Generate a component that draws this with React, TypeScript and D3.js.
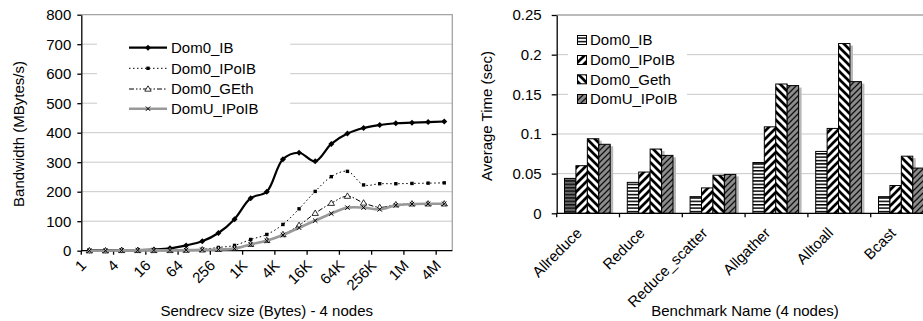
import { useEffect, useRef } from "react";
import * as d3 from "d3";

// left chart: Sendrecv bandwidth
const sizeLabels = ["1", "2", "4", "8", "16", "32", "64", "128", "256", "512", "1K", "2K", "4K", "8K", "16K", "32K", "64K", "128K", "256K", "512K", "1M", "2M", "4M"];
const dom0IB = [1, 1, 2, 2, 4, 8, 18, 32, 60, 107, 178, 200, 310, 332, 303, 362, 397, 416, 426, 432, 434, 436, 438];
const dom0IPoIB = [0, 0, 1, 1, 1, 2, 3, 5, 11, 18, 38, 55, 89, 142, 201, 251, 269, 223, 227, 227, 228, 229, 230];
const dom0GEth = [0, 0, 1, 1, 1, 1, 2, 3, 5, 8, 22, 35, 55, 86, 127, 161, 185, 162, 147, 156, 159, 159, 159];
const domUIPoIB = [0, 0, 1, 1, 1, 1, 2, 3, 4, 7, 21, 34, 53, 78, 102, 126, 146, 146, 140, 154, 158, 159, 159];
const lineNames = ["Dom0_IB", "Dom0_IPoIB", "Dom0_GEth", "DomU_IPoIB"];
const bwTicks = [0, 100, 200, 300, 400, 500, 600, 700, 800];

// right chart: collective average time
const benchmarks = ["Allreduce", "Reduce", "Reduce_scatter", "Allgather", "Alltoall", "Bcast"];
const barNames = ["Dom0_IB", "Dom0_IPoIB", "Dom0_Geth", "DomU_IPoIB"];
const ibTime = [0.044, 0.039, 0.021, 0.064, 0.078, 0.021];
const ipoibTime = [0.06, 0.052, 0.032, 0.109, 0.107, 0.035];
const gethTime = [0.094, 0.081, 0.048, 0.163, 0.214, 0.072];
const domuTime = [0.087, 0.073, 0.049, 0.161, 0.166, 0.057];
const timeTicks = [0, 0.05, 0.1, 0.15, 0.2, 0.25];

const FONT = "'Liberation Sans', Arial, Helvetica, sans-serif";

function Charts() {
  const ref = useRef<SVGSVGElement | null>(null);

  useEffect(() => {
    const svg = d3.select(ref.current);
    svg.selectAll("*").remove();

    const defs = svg.append("defs");
    const pat = (id: string, size: number, bg: string) => {
      const p = defs.append("pattern").attr("id", id)
        .attr("patternUnits", "userSpaceOnUse")
        .attr("width", size).attr("height", size);
      p.append("rect").attr("width", size).attr("height", size).attr("fill", bg);
      return p;
    };
    // horizontal stripes
    const h1 = pat("hstripe", 3.4, "#fff");
    h1.append("rect").attr("width", 3.4).attr("height", 1.5).attr("fill", "#000");
    const h2 = pat("hstripeDark", 3.4, "#6a6a6a");
    h2.append("rect").attr("width", 3.4).attr("height", 1.5).attr("fill", "#111");
    // wide "/" stripes
    pat("diagUp", 8, "#fff").append("path")
      .attr("d", "M-2,2L2,-2M0,8L8,0M6,10L10,6")
      .attr("stroke", "#000").attr("stroke-width", 2.7);
    // wide "\" stripes
    pat("diagDown", 8, "#fff").append("path")
      .attr("d", "M-2,6L2,10M0,0L8,8M6,-2L10,2")
      .attr("stroke", "#000").attr("stroke-width", 2.7);
    // gray with thin "/" lines
    pat("grayDiag", 6, "#8c8c8c").append("path")
      .attr("d", "M-2,2L2,-2M0,6L6,0M4,8L8,4")
      .attr("stroke", "#111").attr("stroke-width", 1.3);

    // slanted category label, anchored at its right end
    const slanted = (parent: any, px: number, py: number, label: string) => {
      parent.append("g")
        .attr("transform", `translate(${px.toFixed(1)},${py.toFixed(1)}) rotate(-45)`)
        .append("text")
        .attr("x", 0).attr("y", 0)
        .attr("text-anchor", "end")
        .attr("dy", "0.35em")
        .attr("font-size", 15).attr("font-family", FONT)
        .text(label);
    };

    // ---------------- left chart ----------------
    const lx0 = 81.3, lx1 = 452.3, ly0 = 250.7, ly1 = 14.7;
    const x = d3.scaleBand().domain(sizeLabels).range([lx0, lx1]);
    const cx = (i: number) => (x(sizeLabels[i]) as number) + x.bandwidth() / 2;
    const y = d3.scaleLinear([0, 800], [ly0, ly1]);

    const left = svg.append("g");
    left.selectAll("line.grid")
      .data(bwTicks.filter(t => t > 0 && t < 800))
      .join("line")
      .attr("x1", lx0).attr("x2", lx1)
      .attr("y1", d => y(d)).attr("y2", d => y(d))
      .attr("stroke", "#c8c8c8").attr("stroke-width", 1);
    // plot border
    left.append("path")
      .attr("d", `M${lx0},${y(800)}H${lx1}V${ly0}`)
      .attr("fill", "none").attr("stroke", "#a4a4a4").attr("stroke-width", 1.3);

    const yAxis = left.append("g")
      .attr("transform", `translate(${lx0},0)`)
      .call(d3.axisLeft(y).tickValues(bwTicks).tickSize(4).tickSizeOuter(0).tickPadding(6));
    yAxis.selectAll("text").attr("font-size", 15).attr("font-family", FONT).attr("fill", "#000");
    yAxis.selectAll("line, path").attr("stroke", "#000").attr("stroke-width", 1.3);

    // x axis with ticks every second category boundary
    left.append("line")
      .attr("x1", lx0).attr("x2", lx1).attr("y1", ly0).attr("y2", ly0)
      .attr("stroke", "#000").attr("stroke-width", 1.3);
    const everyOther = sizeLabels.filter((_, i) => i % 2 === 0);
    everyOther.forEach(d => {
      const bx0 = x(d) as number;
      left.append("line")
        .attr("x1", bx0).attr("x2", bx0).attr("y1", ly0).attr("y2", ly0 + 4)
        .attr("stroke", "#000").attr("stroke-width", 1.3);
      slanted(left, bx0 + x.bandwidth() / 2 - 6, ly0 + 12, d);
    });

    left.append("text")
      .attr("transform", `translate(18.5,134) rotate(-90)`)
      .attr("text-anchor", "middle").attr("dy", "0.35em")
      .attr("font-size", 15).attr("font-family", FONT)
      .text("Bandwidth (MBytes/s)");
    left.append("text")
      .attr("x", 266.7).attr("y", 316)
      .attr("text-anchor", "middle")
      .attr("font-size", 15).attr("font-family", FONT)
      .text("Sendrecv size (Bytes) - 4 nodes");

    const lineStyles = [
      { data: dom0IB, stroke: "#000", width: 2.2, dash: null, marker: "diamond" },
      { data: dom0IPoIB, stroke: "#000", width: 1, dash: "1.5,2.5", marker: "square" },
      { data: dom0GEth, stroke: "#000", width: 1, dash: "5,2,1.5,2,1.5,2", marker: "triangle" },
      { data: domUIPoIB, stroke: "#999", width: 2.6, dash: null, marker: "cross" },
    ];
    const line = d3.line<number>()
      .x((_, i) => cx(i))
      .y(d => y(d))
      .curve(d3.curveCatmullRom.alpha(0.5));

    const drawMarker = (g: any, kind: string, px: number, py: number) => {
      if (kind === "diamond") {
        g.append("path").attr("d", `M${px},${py - 3}L${px + 3},${py}L${px},${py + 3}L${px - 3},${py}Z`).attr("fill", "#000");
      } else if (kind === "square") {
        g.append("rect").attr("x", px - 1.7).attr("y", py - 1.7).attr("width", 3.4).attr("height", 3.4).attr("fill", "#000");
      } else if (kind === "triangle") {
        g.append("path").attr("d", `M${px},${py - 3.2}L${px + 3.2},${py + 2.2}L${px - 3.2},${py + 2.2}Z`)
          .attr("fill", "#fff").attr("stroke", "#000").attr("stroke-width", 0.8);
      } else {
        g.append("path").attr("d", `M${px - 2.2},${py - 2.2}L${px + 2.2},${py + 2.2}M${px - 2.2},${py + 2.2}L${px + 2.2},${py - 2.2}`)
          .attr("stroke", "#000").attr("stroke-width", 1);
      }
    };

    lineStyles.forEach(s => {
      const g = left.append("g");
      g.append("path")
        .attr("d", line(s.data))
        .attr("fill", "none")
        .attr("stroke", s.stroke)
        .attr("stroke-width", s.width)
        .attr("stroke-dasharray", s.dash);
      s.data.forEach((v, i) => drawMarker(g, s.marker, cx(i), y(v)));
    });

    // left legend
    const lleg = left.append("g");
    lleg.append("rect").attr("x", 97).attr("y", 33).attr("width", 193).attr("height", 89).attr("fill", "#fff");
    const legRows = [47.7, 68.3, 89, 108.7];
    lineNames.forEach((name, i) => {
      const s = lineStyles[i];
      const ry = legRows[i];
      lleg.append("line")
        .attr("x1", 129).attr("x2", 167).attr("y1", ry).attr("y2", ry)
        .attr("stroke", s.stroke).attr("stroke-width", s.width)
        .attr("stroke-dasharray", s.dash);
      drawMarker(lleg, s.marker, 148, ry);
      lleg.append("text")
        .attr("x", 171).attr("y", ry).attr("dy", "0.35em")
        .attr("font-size", 15).attr("font-family", FONT)
        .text(name);
    });

    // ---------------- right chart ----------------
    const rx0 = 556.7, step = 62.8, ry0 = 213.3, ry1 = 15;
    const xb = d3.scaleBand().domain(benchmarks).range([rx0, rx0 + step * benchmarks.length]);
    const xs = d3.scaleBand().domain(barNames).range([0, 45.7]);
    const yb = d3.scaleLinear([0, 0.25], [ry0, ry1]);

    const right = svg.append("g");
    right.selectAll("line.grid")
      .data(timeTicks.filter(t => t > 0 && t < 0.25))
      .join("line")
      .attr("x1", rx0).attr("x2", 923)
      .attr("y1", d => yb(d)).attr("y2", d => yb(d))
      .attr("stroke", "#c8c8c8").attr("stroke-width", 1);
    right.append("line")
      .attr("x1", rx0).attr("x2", 923).attr("y1", yb(0.25)).attr("y2", yb(0.25))
      .attr("stroke", "#a4a4a4").attr("stroke-width", 1.3);

    const series = [ibTime, ipoibTime, gethTime, domuTime];
    const fills = ["url(#hstripe)", "url(#diagUp)", "url(#diagDown)", "url(#grayDiag)"];
    const bars = series.flatMap((vals, si) =>
      vals.map((v, ci) => ({ si, ci, v, name: barNames[si], cat: benchmarks[ci] })));
    const bx = (d: any) => (xb(d.cat) as number) + 7.8 + (xs(d.name) as number);

    right.append("g").selectAll("rect")
      .data(bars)
      .join("rect")
      .attr("x", d => bx(d) + 3)
      .attr("y", d => yb(d.v) + 2)
      .attr("width", xs.bandwidth())
      .attr("height", d => ry0 - yb(d.v) - 2)
      .attr("fill", "#b8b8b8");
    right.append("g").selectAll("rect")
      .data(bars)
      .join("rect")
      .attr("x", d => bx(d))
      .attr("y", d => yb(d.v))
      .attr("width", xs.bandwidth())
      .attr("height", d => ry0 - yb(d.v))
      .attr("fill", d => (d.si === 0 && d.ci === 0 ? "url(#hstripeDark)" : fills[d.si]))
      .attr("stroke", "#000").attr("stroke-width", 1);

    const ybAxis = right.append("g")
      .attr("transform", `translate(${rx0},0)`)
      .call(d3.axisLeft(yb).tickValues(timeTicks).tickFormat(d => String(+d)).tickSize(5).tickSizeOuter(0).tickPadding(10));
    ybAxis.selectAll("text").attr("font-size", 15).attr("font-family", FONT).attr("fill", "#000");
    ybAxis.selectAll("line, path").attr("stroke", "#000").attr("stroke-width", 1.3);

    right.append("line")
      .attr("x1", rx0).attr("x2", 923).attr("y1", ry0).attr("y2", ry0)
      .attr("stroke", "#000").attr("stroke-width", 1.3);
    benchmarks.forEach(d => {
      const b0 = xb(d) as number;
      right.append("line")
        .attr("x1", b0).attr("x2", b0).attr("y1", ry0).attr("y2", ry0 + 4)
        .attr("stroke", "#000").attr("stroke-width", 1.3);
      slanted(right, b0 + xb.bandwidth() / 2 - 9, ry0 + 17, d);
    });

    right.append("text")
      .attr("transform", `translate(487,116) rotate(-90)`)
      .attr("text-anchor", "middle").attr("dy", "0.35em")
      .attr("font-size", 15).attr("font-family", FONT)
      .text("Average Time (sec)");
    right.append("text")
      .attr("x", 745).attr("y", 316)
      .attr("text-anchor", "middle")
      .attr("font-size", 15).attr("font-family", FONT)
      .text("Benchmark Name (4 nodes)");

    // right legend
    const rleg = right.append("g");
    rleg.append("rect").attr("x", 568).attr("y", 29).attr("width", 119).attr("height", 81).attr("fill", "#fff");
    const rRows = [40, 60, 79.3, 99];
    barNames.forEach((name, i) => {
      rleg.append("rect")
        .attr("x", 577.5).attr("y", rRows[i] - 4.5)
        .attr("width", 9).attr("height", 9)
        .attr("fill", fills[i]).attr("stroke", "#000").attr("stroke-width", 1);
      rleg.append("text")
        .attr("x", 590).attr("y", rRows[i]).attr("dy", "0.35em")
        .attr("font-size", 15).attr("font-family", FONT)
        .text(name);
    });
  }, []);

  return (
    <svg
      ref={ref}
      width={923}
      height={321}
      style={{ position: "absolute", left: 0, top: 0, background: "#fff" }}
    />
  );
}

export default function App() {
  return <Charts />;
}
